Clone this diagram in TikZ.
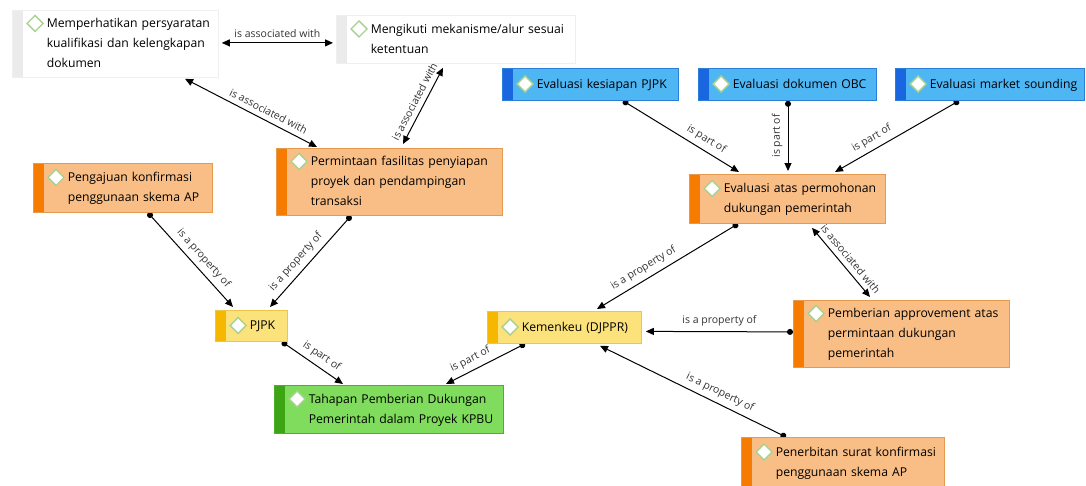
\documentclass[tikz,border=0pt]{standalone}
\usepackage{fontspec}
\setmainfont{Open Sans}
\usetikzlibrary{arrows.meta,backgrounds}

\definecolor{orfill}{HTML}{F9BE86}
\definecolor{orstrip}{HTML}{F57C00}
\definecolor{orline}{HTML}{E59A50}
\definecolor{blfill}{HTML}{4FB6F4}
\definecolor{blstrip}{HTML}{1A66E0}
\definecolor{blline}{HTML}{2A7FD8}
\definecolor{yefill}{HTML}{FCE27A}
\definecolor{yestrip}{HTML}{F5B700}
\definecolor{yeline}{HTML}{EDC54A}
\definecolor{grfill}{HTML}{7FDC5C}
\definecolor{grstrip}{HTML}{3DA514}
\definecolor{grline}{HTML}{4DAF2A}
\definecolor{whstrip}{HTML}{EBEBEB}
\definecolor{whline}{HTML}{EFEFEF}
\definecolor{icoline}{HTML}{A9D18E}
\definecolor{lblgray}{HTML}{333333}

\newcommand{\ico}{\tikz[baseline=-4.5pt]\draw[icoline,fill=white,line width=1.4pt] (0pt,8pt)--(8pt,0pt)--(0pt,-8pt)--(-8pt,0pt)--cycle;}
\newcommand{\lines}[1]{\mbox{\hspace*{14pt}\ico\hspace{3pt}\begin{tabular}[t]{@{}l@{}}#1\end{tabular}}}

\begin{document}
\begin{tikzpicture}[x=1pt, y=-1pt, font=\fontsize{12.2}{20}\selectfont,
     tbox/.style n args={3}{draw=#2, fill=#1, line width=0.8pt, anchor=north west, inner sep=0pt, align=left,
        path picture={\fill[#3] (path picture bounding box.north west) rectangle ([xshift=11pt]path picture bounding box.south west);}},
     orbox/.style={tbox={orfill}{orline}{orstrip}},
     blbox/.style={tbox={blfill}{blline}{blstrip}},
     yebox/.style={tbox={yefill}{yeline}{yestrip}},
     grbox/.style={tbox={grfill}{grline}{grstrip}},
     whbox/.style={tbox={white}{whline}{whstrip}},
     sz/.style 2 args={text width=#1, minimum height=#2},
     lbl/.style={font=\fontsize{10.5}{12}\selectfont, text=lblgray, sloped, above, inner sep=5pt},
     lblv/.style={font=\fontsize{10.5}{12}\selectfont, text=lblgray, rotate=90, anchor=south, inner sep=5pt},
     prop/.style={{Circle[length=6pt]}-{Triangle[length=8pt,width=7pt]}, line width=1pt},
     assoc/.style={{Triangle[length=8pt,width=7pt]}-{Triangle[length=8pt,width=7pt]}, line width=1pt}]

   \useasboundingbox (0,0) rectangle (1086,485);

   \node[whbox, sz={206pt}{67pt}] (memp) at (12,10) {\lines{Memperhatikan persyaratan\\kualifikasi dan kelengkapan\\dokumen}};
   \node[whbox, sz={239pt}{48pt}] (meng) at (336,15) {\lines{Mengikuti mekanisme/alur sesuai\\ketentuan}};
   \node[orbox, sz={226pt}{67pt}] (permin) at (276,148) {\lines{Permintaan fasilitas penyiapan\\proyek dan pendampingan\\transaksi}};
   \node[orbox, sz={179pt}{49pt}] (penga) at (33,163) {\lines{Pengajuan konfirmasi\\penggunaan skema AP}};
   \node[yebox, sz={72pt}{31pt}] (pjpk) at (215,310) {\lines{PJPK}};
   \node[grbox, sz={229pt}{48pt}] (tahap) at (274,385) {\lines{Tahapan Pemberian Dukungan\\Pemerintah dalam Proyek KPBU}};
   \node[yebox, sz={154pt}{32pt}] (kemen) at (487,311) {\lines{Kemenkeu (DJPPR)}};
   \node[blbox, sz={176pt}{32pt}] (evk) at (502,68) {\lines{Evaluasi kesiapan PJPK}};
   \node[blbox, sz={178pt}{32pt}] (evo) at (698,68) {\lines{Evaluasi dokumen OBC}};
   \node[blbox, sz={189pt}{32pt}] (evm) at (895,68) {\lines{Evaluasi market sounding}};
   \node[orbox, sz={196pt}{49pt}] (evatas) at (689,174) {\lines{Evaluasi atas permohonan\\dukungan pemerintah}};
   \node[orbox, sz={216pt}{67pt}] (pember) at (793,300) {\lines{Pemberian approvement atas\\permintaan dukungan\\pemerintah}};
   \node[orbox, sz={203pt}{50pt}] (pener) at (741,437) {\lines{Penerbitan surat konfirmasi\\penggunaan skema AP}};

   \begin{scope}[on background layer]
   \draw[assoc] ([xshift=3pt,yshift=1pt]memp.east) -- ([xshift=-3pt,yshift=-3.5pt]meng.west) node[lbl, midway] {is associated with};
   \draw[assoc] ([xshift=173pt,yshift=-1pt]memp.south west) -- ([xshift=41pt,yshift=1pt]permin.north west) node[lbl, pos=0.6] {is associated with};
   \draw[assoc] ([xshift=107pt,yshift=-4pt]meng.south west) -- ([xshift=127pt,yshift=4pt]permin.north west) node[lbl, pos=0.5] {is associated with};
   \draw[prop] ([xshift=115pt]penga.south west) -- ([xshift=18pt,yshift=3pt]pjpk.north west) node[lbl, pos=0.56] {is a property of};
   \draw[prop] ([xshift=75pt]permin.south west) -- ([xshift=55pt,yshift=3pt]pjpk.north west) node[lbl, pos=0.58] {is a property of};
   \draw[prop] ([xshift=67pt]pjpk.south west) -- ([xshift=69pt,yshift=1pt]tahap.north west) node[lbl, pos=0.55] {is part of};
   \draw[prop] ([xshift=38pt]kemen.south west) -- ([xshift=172pt,yshift=1pt]tahap.north west) node[lbl, pos=0.63] {is part of};
   \draw[prop] ([xshift=121pt]evk.south west) -- ([xshift=50pt,yshift=2pt]evatas.north west) node[lbl, pos=0.67] {is part of};
   \draw[prop] ([xshift=90pt]evo.south west) -- ([xshift=99pt,yshift=3pt]evatas.north west) node[lblv, midway] {is part of};
   \draw[prop] ([xshift=64pt]evm.south west) -- ([xshift=146pt,yshift=2pt]evatas.north west) node[lbl, pos=0.66] {is part of};
   \draw[prop] ([xshift=49pt]evatas.south west) -- ([xshift=110pt,yshift=2pt]kemen.north west) node[lbl, pos=0.63] {is a property of};
   \draw[assoc] ([xshift=123pt,yshift=-4pt]evatas.south west) -- ([xshift=77pt,yshift=3pt]pember.north west) node[lbl, pos=0.54] {is associated with};
   \draw[prop] ([yshift=2pt]pember.west) -- ([xshift=4pt,yshift=-4pt]kemen.east) node[lbl, midway] {is a property of};
   \draw[prop] ([xshift=45pt]pener.north west) -- ([xshift=113pt,yshift=-2pt]kemen.south west) node[lbl, pos=0.38] {is a property of};
   \end{scope}
  \end{tikzpicture}
\end{document}
